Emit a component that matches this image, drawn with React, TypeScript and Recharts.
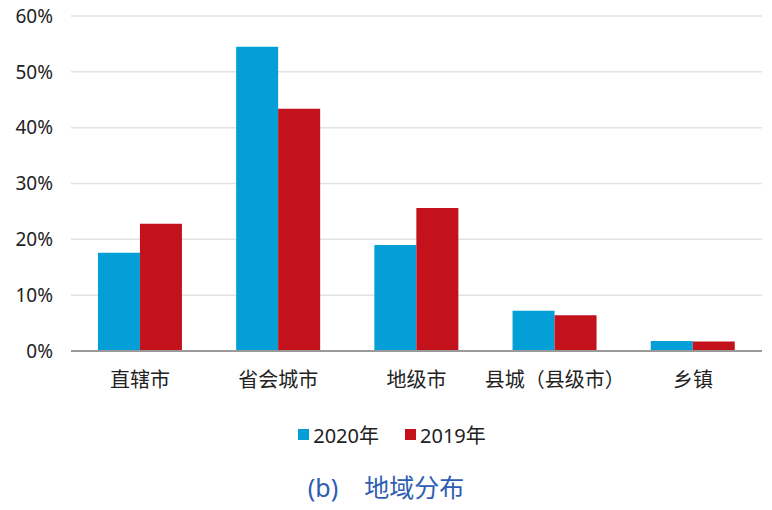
import { BarChart, Bar, XAxis, YAxis, CartesianGrid } from 'recharts';

const categories = ['直辖市', '省会城市', '地级市', '县城（县级市）', '乡镇'];
const values2020 = [17.6, 54.5, 19.0, 7.2, 1.8];
const values2019 = [22.8, 43.4, 25.6, 6.4, 1.7];
const yTicks = [0, 10, 20, 30, 40, 50, 60];

const BLUE = '#039fd6';
const RED = '#c3121c';
const FONT = '"Noto Sans", "Noto Sans CJK SC", sans-serif';

const data = categories.map((c, i) => ({ name: c, y2020: values2020[i], y2019: values2019[i] }));

export default function App() {
    return (
        <div style={{ position: 'absolute', left: 0, top: 0, width: 772, height: 510, background: '#fff', fontFamily: FONT }}>
            <BarChart
                width={772}
                height={400}
                data={data}
                margin={{ top: 16, right: 10, left: 0, bottom: 0 }}
                barCategoryGap="19.5%"
                barGap={0}
            >
                <CartesianGrid vertical={false} stroke="#e2e2e2" strokeWidth={1.5} />
                <XAxis
                    dataKey="name"
                    height={49}
                    axisLine={{ stroke: '#999', strokeWidth: 2 }}
                    tickLine={false}
                    tick={{ fill: '#222', fontSize: 20, fontFamily: FONT, dy: 14 }}
                    interval={0}
                />
                <YAxis
                    width={71}
                    domain={[0, 60]}
                    ticks={yTicks}
                    axisLine={false}
                    tickLine={false}
                    tickFormatter={(v: number) => `${v}%`}
                    tick={{ fill: '#222', fontSize: 19, fontFamily: FONT, dx: -10 }}
                />
                <Bar dataKey="y2020" name="2020年" fill={BLUE} isAnimationActive={false} />
                <Bar dataKey="y2019" name="2019年" fill={RED} isAnimationActive={false} />
            </BarChart>
            <div style={{ position: 'absolute', top: 420, left: 0, width: 772, display: 'flex', justifyContent: 'center', gap: 26, fontSize: 20, color: '#222', paddingLeft: 12, boxSizing: 'border-box' }}>
                <span style={{ display: 'flex', alignItems: 'center' }}>
                    <span style={{ width: 11, height: 11, background: BLUE, marginRight: 4 }} />2020年
                </span>
                <span style={{ display: 'flex', alignItems: 'center' }}>
                    <span style={{ width: 11, height: 11, background: RED, marginRight: 4 }} />2019年
                </span>
            </div>
            <div style={{ position: 'absolute', top: 468, left: 0, width: 772, textAlign: 'center', fontSize: 25, color: '#2f5db3', boxSizing: 'border-box' }}>
                (b)&nbsp;&nbsp;&nbsp;&nbsp;地域分布
            </div>
        </div>
    );
}
